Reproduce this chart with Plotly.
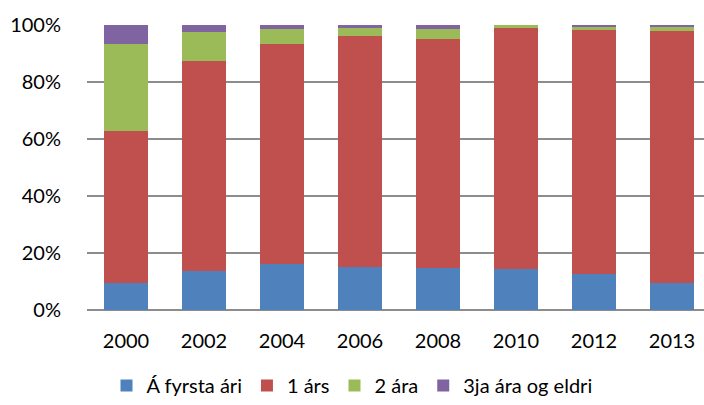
import plotly.graph_objects as go

years = ["2000", "2002", "2004", "2006", "2008", "2010", "2012", "2013"]
series_names = ["Á fyrsta ári", "1 árs", "2 ára", "3ja ára og eldri"]
first_year = [9.4, 13.6, 16.1, 15.0, 14.6, 14.3, 12.5, 9.6]
one_year = [53.4, 73.7, 77.1, 81.3, 80.6, 84.8, 85.7, 88.4]
two_years = [30.4, 10.4, 5.4, 2.8, 3.5, 0.9, 1.0, 1.4]
three_plus = [6.8, 2.3, 1.4, 0.9, 1.3, 0.0, 0.8, 0.6]
colors = ["#4F81BD", "#C0504D", "#9BBB59", "#8064A2"]

fig = go.Figure()
for name, vals, c in zip(series_names, [first_year, one_year, two_years, three_plus], colors):
    fig.add_trace(go.Bar(x=years, y=vals, name=name, marker=dict(color=c, line=dict(width=0))))

font = "Lato, 'Open Sans', sans-serif"
fig.update_layout(
    barmode="stack",
    barnorm="percent",
    width=704, height=405,
    margin=dict(l=87, r=0, t=25, b=95),
    paper_bgcolor="white", plot_bgcolor="white",
    bargap=0.436,
    font=dict(family=font, size=20, color="#000000"),
    showlegend=True,
    legend=dict(orientation="h", xref="container", x=0.5, xanchor="center",
                yref="container", y=0.0, yanchor="bottom",
                font=dict(size=20), traceorder="normal", itemwidth=30),
    xaxis=dict(range=[-0.5, 7.41], showgrid=False, showline=False, ticks="",
               tickfont=dict(size=20), ticklabelstandoff=17),
    yaxis=dict(range=[0, 100], tickvals=[0, 20, 40, 60, 80, 100],
               ticktext=["0%", "20%", "40%", "60%", "80%", "100%"],
               showgrid=True, gridcolor="#8C8C8C", gridwidth=1.5,
               zeroline=True, zerolinecolor="#8C8C8C", zerolinewidth=1.5,
               showline=False, ticks="", ticklabelstandoff=25,
               tickfont=dict(size=20)),
)
fig.write_html("out.html", config={"displayModeBar": False},
               post_script="document.body.style.margin='0';")
